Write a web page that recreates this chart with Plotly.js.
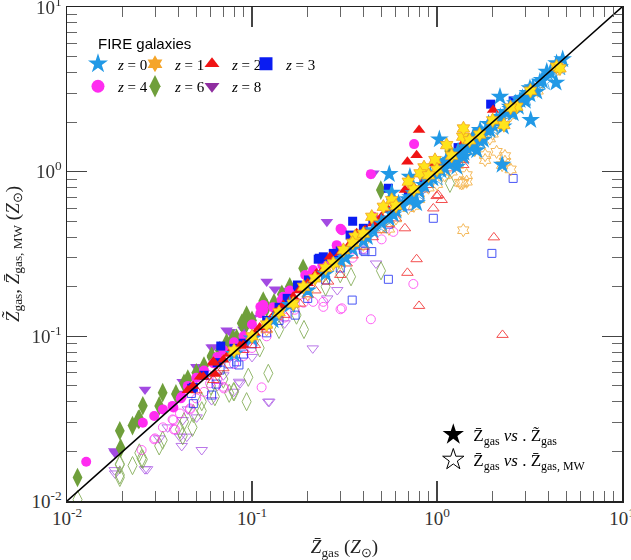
<!DOCTYPE html>
<html><head><meta charset="utf-8">
<script src="https://cdn.plot.ly/plotly-3.0.1.min.js"></script>
<style>html,body{margin:0;padding:0;background:#fff}#chart{width:631px;height:560px}</style>
</head><body><div id="chart"></div>
<script>
// ---- data: [Zbar_gas, Z_other] pairs (units of Z_sun) ----
const z0Filled = [[4.78,4.81],[4.40,3.47],[3.92,4.04],[3.60,3.52],[3.18,3.21],[3.46,3.06],[3.18,2.95],[3.21,2.06],[2.19,2.85],[2.81,2.72],[3.00,2.69],[2.48,2.48],[2.25,1.10],[1.03,1.57],[2.28,1.88],[1.71,1.79],[1.57,1.63],[1.51,1.42],[1.39,1.23],[1.28,1.07],[1.18,1.18],[1.64,1.35],[1.78,1.56],[1.93,1.79],[2.10,2.06],[2.58,2.26],[2.75,2.48],[4.43,4.55],[0.552,0.966],[0.569,0.745],[0.714,0.931],[0.776,0.642],
 [0.08,0.078],[0.10,0.097],[0.13,0.125],[0.16,0.155],[0.20,0.19],[0.25,0.24],[0.30,0.29],[0.35,0.34],[0.40,0.38],[0.45,0.44],[0.50,0.49],[0.55,0.52],[0.60,0.58],[0.65,0.62],[0.70,0.68],[0.75,0.74],[0.80,0.76],[0.85,0.83],[0.90,0.88],[0.95,0.91],[1.00,0.97],[1.05,1.02],[1.10,1.05],[1.15,1.12],[1.20,1.16],[1.25,1.22],[1.35,1.30],[1.45,1.40],[1.55,1.50],[1.65,1.58],[1.75,1.70],[1.85,1.80],[2.00,1.93],[2.10,2.00],[2.20,2.15],[2.35,2.30],[2.50,2.40],[2.65,2.60],[2.90,2.80],[3.10,3.00],[3.30,3.25],[3.70,3.60],[4.10,4.00],[0.62,0.64],[0.72,0.70],[0.88,0.90],[1.30,1.33],[1.60,1.62],[1.90,1.95],[0.92,0.95],[1.12,1.16],[0.58,0.55],[1.40,1.30],[1.70,1.55],[0.42,0.40],[0.32,0.30]];
const z0Open = [[0.50,0.47],[0.80,0.74],[1.00,0.92],[1.30,1.20],[1.60,1.45],[2.00,1.85],[2.50,2.30],[3.00,2.80],[3.80,3.50],[4.60,4.30]];

const z1Filled = [[0.851,1.062],[0.975,1.176],[1.128,1.45],[1.377,1.63],[1.39,1.83],[0.81,0.977],[0.70,0.869],[0.569,0.672],[0.513,0.612],[0.444,0.532],[0.361,0.403],[0.312,0.334],[2.30,1.92],[4.43,4.34],[2.70,2.48],[4.62,4.24],[0.219,0.225],[0.167,0.158],[0.275,0.277],[0.08,0.082],[0.10,0.10],[0.12,0.118],
 [0.60,0.62],[0.75,0.78],[1.00,1.03],[1.20,1.25],[1.50,1.55],[1.70,1.68],[2.00,2.05],[2.50,2.45],[3.20,3.10],[0.40,0.42],[0.25,0.26],[0.14,0.14],[0.19,0.20],[0.35,0.37],[0.90,0.95]];
const z1Open = [[2.10,1.32],[2.33,1.244],[2.25,1.097],[2.50,1.032],[1.387,0.857],[1.446,0.953],[1.82,1.26],[1.93,1.59],[2.33,1.148],[1.387,0.441],[1.36,0.849],[1.446,0.869],[1.33,0.857],[1.82,1.176],
 [0.30,0.28],[0.50,0.46],[0.70,0.60],[0.90,0.80],[1.10,0.95],[1.30,1.10],[1.60,1.35],[2.00,1.70],[2.50,2.20],[3.50,3.10],[4.50,4.20],[0.20,0.18],[0.12,0.11],[0.40,0.36],[0.60,0.52],[0.80,0.68],[1.00,0.84],[1.20,1.00],[1.70,1.45],[0.55,0.45],[0.75,0.62]];

const z2Filled = [[0.0524,0.0569],[0.0618,0.070],[0.0897,0.0885],[0.0622,0.0692],[0.0861,0.0873],[0.1037,0.104],[0.125,0.1256],[0.1476,0.155],[0.167,0.174],[0.223,0.241],[0.264,0.304],[0.368,0.422],[0.80,1.79],[0.776,1.26],[0.692,1.148],[0.546,0.585],[0.453,0.485],[0.408,0.441],[0.671,0.773],[0.879,0.91],[0.975,1.122],[2.01,2.37],[1.36,1.45],[0.063,0.059],[0.0546,0.0569],
 [0.07,0.072],[0.075,0.078],[0.11,0.113],[0.135,0.14],[0.18,0.19],[0.20,0.21],[0.24,0.25],[0.30,0.32],[0.33,0.35],[0.50,0.53],[0.60,0.64],[0.75,0.80],[1.10,1.15],[1.20,1.28],[1.60,1.70],[0.045,0.047],[0.048,0.05]];
const z2Open = [[2.03,0.399],[0.776,0.294],[0.692,0.243],[0.80,0.153],[2.26,0.102],[0.996,0.711],[1.06,0.673],[0.955,0.598],[0.671,0.453],[0.502,0.441],[1.175,1.047],[1.387,1.176],[1.016,0.721],[1.387,1.097],[0.064,0.061],[0.0618,0.0543],[0.0897,0.0826],[0.136,0.1315],[0.1815,0.158],[0.258,0.215],[0.30,0.236],[0.325,0.277],[0.1037,0.0885],
 [0.05,0.047],[0.07,0.064],[0.12,0.11],[0.15,0.135],[0.20,0.18],[0.22,0.19],[0.35,0.31],[0.40,0.35],[0.45,0.40],[0.55,0.48],[0.60,0.52],[0.85,0.78],[0.90,0.83],[1.20,1.10]];

const z3Filled = [[0.0678,0.0873],[0.080,0.0845],[0.0482,0.049],[0.0648,0.0692],[0.0897,0.0908],[0.231,0.298],[0.176,0.205],[0.202,0.22],[0.275,0.319],[0.339,0.412],[0.35,0.50],[0.40,0.453],[0.0995,0.097],[0.546,0.793],[0.243,0.304],[0.228,0.294],[0.178,0.20],[0.28,0.31],[0.60,0.656],[1.95,2.57],[2.58,2.69],[0.0472,0.0483],
 [0.12,0.125],[0.14,0.15],[0.155,0.17],[0.055,0.058],[0.30,0.33],[0.45,0.50],[0.70,0.75],[0.85,0.90],[1.30,1.40]];
const z3Open = [[2.58,0.91],[0.955,0.521],[1.98,0.319],[0.546,0.222],[0.348,0.166],[0.444,0.327],[0.0482,0.039],[0.0826,0.070],[0.0605,0.044],[0.0672,0.0624],[0.40,0.334],[0.171,0.1345],[0.047,0.045],[0.064,0.0513],[0.408,0.327],[0.085,0.067],
 [0.10,0.09],[0.12,0.105],[0.14,0.125],[0.20,0.17],[0.25,0.22],[0.30,0.26],[0.55,0.48],[0.70,0.62],[0.80,0.70],[0.09,0.078],[0.075,0.068]];

const z4Filled = [[0.0127,0.0173],[0.0257,0.0299],[0.0296,0.0328],[0.0376,0.037],[0.0417,0.043],[0.0372,0.0378],[0.0412,0.042],[0.070,0.0826],[0.0618,0.0686],[0.115,0.1445],[0.1476,0.174],[0.214,0.253],[0.111,0.151],[0.115,0.155],[0.111,0.138],[0.1445,0.166],[0.214,0.247],[0.194,0.236],[0.306,0.441],[0.287,0.358],[0.752,1.47],[0.439,0.966],[0.301,0.45],[0.289,0.349],[0.453,0.532],[0.292,0.319],
 [0.045,0.05],[0.05,0.056],[0.055,0.062],[0.065,0.075],[0.08,0.092],[0.09,0.10],[0.10,0.118],[0.13,0.15],[0.16,0.19],[0.18,0.20],[0.24,0.27],[0.26,0.29],[0.033,0.036]];
const z4Open = [[0.0253,0.0204],[0.0296,0.0237],[0.0372,0.0313],[0.0378,0.0272],[0.0408,0.034],[0.0462,0.036],[0.0594,0.0519],[0.1127,0.049],[0.0705,0.0483],[0.0299,0.024],[0.0376,0.031],[0.0384,0.0272],[0.0462,0.0365],[0.070,0.0494],[0.058,0.0582],[0.306,0.148],[0.439,0.127],[0.243,0.151],[0.745,0.208],[0.301,0.146],[0.581,0.431],[0.502,0.388],[0.214,0.162],[0.243,0.162],
 [0.05,0.042],[0.055,0.046],[0.065,0.055],[0.08,0.068],[0.09,0.076],[0.10,0.085],[0.12,0.10],[0.15,0.13],[0.17,0.145],[0.19,0.16],[0.35,0.30],[0.40,0.34],[0.033,0.028]];

const z6Filled = [[0.0114,0.0139],[0.0193,0.0267],[0.0195,0.021],[0.0226,0.0287],[0.0257,0.0379],[0.0246,0.0315],[0.0329,0.0455],[0.0315,0.0378],[0.0388,0.0447],[0.0243,0.0313],[0.0429,0.0519],[0.0605,0.0759],[0.0729,0.0914],[0.0826,0.0972],[0.0935,0.1345],[0.189,0.259],[0.115,0.164],[0.1315,0.16],[0.0935,0.12],[0.088,0.12],[0.079,0.097],[0.0605,0.075],[0.497,0.773],[1.165,1.334],
 [0.05,0.06],[0.055,0.066],[0.067,0.082],[0.10,0.125],[0.12,0.15],[0.145,0.18],[0.16,0.20],[0.045,0.055]];
const z6Open = [[0.0114,0.0102],[0.0193,0.0139],[0.0193,0.0166],[0.0226,0.0164],[0.0257,0.0179],[0.0246,0.0196],[0.0329,0.0234],[0.0315,0.0216],[0.0422,0.0249],[0.0477,0.028],[0.0535,0.0353],[0.0753,0.0451],[0.0935,0.0401],[0.1225,0.0596],[0.191,0.110],[0.0955,0.0564],[0.080,0.0461],[0.174,0.1345],[1.175,0.849],[0.498,0.25],[0.343,0.230],[0.0482,0.034],[0.0535,0.0401],[0.0429,0.0303],[0.0408,0.0272],[0.063,0.043],[0.0795,0.0461],[0.0253,0.0181],[0.0193,0.0168],[0.0193,0.0144],
 [0.06,0.05],[0.07,0.055],[0.11,0.085],[0.14,0.11],[0.25,0.20],[0.30,0.24]];

const z8Filled = [[0.018,0.0201],[0.0264,0.0476],[0.0422,0.053],[0.0182,0.0196],[0.0614,0.0857],[0.0502,0.0649],[0.076,0.1067],[0.12,0.215],[0.133,0.193],[0.0729,0.109],[0.0605,0.0857],[0.0502,0.0654],[0.254,0.497],[0.453,0.977],
 [0.04,0.045],[0.09,0.11],[0.10,0.13],[0.15,0.19]];
const z8Open = [[0.0181,0.0154],[0.0264,0.0156],[0.0417,0.0216],[0.0535,0.0204],[0.0315,0.024],[0.0444,0.0246],[0.124,0.0401],[0.0795,0.0461],[0.0605,0.041],[0.0861,0.0519],[0.0422,0.031],[0.0182,0.0147],[0.0271,0.0156],[0.0851,0.053],[0.0502,0.0322],[0.0408,0.0246],[0.213,0.0845],[0.1225,0.0401],[0.468,0.277],[0.289,0.191],[0.255,0.17],
 [0.035,0.028],[0.045,0.036],[0.065,0.05],[0.10,0.075],[0.15,0.12],[0.07,0.058]];

const oneToOne = [0.01, 10];
const tickVals = [0.01, 0.1, 1, 10];
const tickText = ['10<sup>-2</sup>', '10<sup>-1</sup>', '10<sup>0</sup>', '10<sup>1</sup>'];
const legendTitle = 'FIRE galaxies';
const legendLabels = ['<i>z</i> = 0', '<i>z</i> = 1', '<i>z</i> = 2', '<i>z</i> = 3', '<i>z</i> = 4', '<i>z</i> = 6', '<i>z</i> = 8'];

// ---- styles ----
const SERIF = 'Liberation Serif, Times New Roman, serif';
const SANS = 'Liberation Sans, Arial, sans-serif';
const styles = {
  z0: {sym:'star', size:14, color:'#2199e6'},
  z1: {sym:'hexagram', size:11, color:'#ffe41c', line:'#f0a020', legendColor:'#f5a52a'},
  z2: {sym:'triangle-up', size:11, color:'#f01414'},
  z3: {sym:'square', size:9, color:'#0a1cf2'},
  z4: {sym:'circle', size:10, color:'#ff2cf0'},
  z6: {sym:'diamond-tall', size:14, color:'#6f9f3b'},
  z8: {sym:'triangle-down', size:11, color:'#a34ae2', legendColor:'#8f2ea0'}
};
const col = (a, i) => a.map(p => p[i]);

function openTrace(arr, s) {
  return {type:'scatter', mode:'markers', x:col(arr,0), y:col(arr,1), showlegend:false, hoverinfo:'skip',
    opacity:0.75,
    marker:{symbol:s.sym + '-open', size:s.size - 1, color:(s.line||s.color), line:{width:1, color:(s.line||s.color)}}};
}
function filledTrace(arr, s) {
  return {type:'scatter', mode:'markers', x:col(arr,0), y:col(arr,1), showlegend:false, hoverinfo:'skip',
    marker:{symbol:s.sym, size:s.size, color:s.color, line:{width:s.line?0.8:0, color:s.line||s.color}}};
}

const traces = [
  openTrace(z8Open, styles.z8), openTrace(z6Open, styles.z6), openTrace(z4Open, styles.z4),
  openTrace(z3Open, styles.z3), openTrace(z2Open, styles.z2), openTrace(z1Open, styles.z1), openTrace(z0Open, styles.z0),
  filledTrace(z8Filled, styles.z8), filledTrace(z6Filled, styles.z6), filledTrace(z4Filled, styles.z4),
  filledTrace(z3Filled, styles.z3), filledTrace(z2Filled, styles.z2), filledTrace(z0Filled, styles.z0), filledTrace(z1Filled, styles.z1),
  {type:'scatter', mode:'lines', x:oneToOne, y:oneToOne, showlegend:false, hoverinfo:'skip', line:{color:'#000', width:1.6}}
];

// legend 1: four columns, each its own small vertical legend
const legendOrder = [['z0',0,'legend'],['z4',4,'legend'],['z1',1,'legend3'],['z6',5,'legend3'],['z2',2,'legend4'],['z8',6,'legend4'],['z3',3,'legend5']];
legendOrder.forEach(([k, li, lg]) => {
  const s = styles[k];
  traces.push({type:'scatter', mode:'markers', x:[null], y:[null], name:legendLabels[li], legend:lg,
    marker:{symbol:s.sym, size:(k==='z0'?15:(k==='z6'?16:13)), color:(s.legendColor||s.color), line:{width:0}}});
});
// legend 2
traces.push({type:'scatter', mode:'markers', x:[null], y:[null], legend:'legend2',
  name:'Z\u0304<sub>gas</sub> <i>vs</i> . Z\u0303<sub>gas</sub>', marker:{symbol:'star', size:16, color:'#000'}});
traces.push({type:'scatter', mode:'markers', x:[null], y:[null], legend:'legend2',
  name:'Z\u0304<sub>gas</sub> <i>vs</i> . Z\u0304<sub>gas, MW</sub>', marker:{symbol:'star-open', size:16, color:'#000', line:{width:1, color:'#000'}}});

const minorVals = [];
[0.01, 0.1, 1].forEach(d => { for (let k = 2; k <= 9; k++) minorVals.push(k * d); });

function axis(titleText) {
  return {
    type:'log', range:[-2, 1], tickmode:'array', tickvals:tickVals, ticktext:tickText,
    ticks:'inside', ticklen:20, tickwidth:1.2, tickcolor:'#444', ticklabeloverflow:'allow',
    showline:true, linecolor:'#222', linewidth:1.5, mirror:'allticks',
    showgrid:false, zeroline:false,
    tickfont:{family:SERIF, size:19, color:'#333'},
    minor:{tickmode:'array', tickvals:minorVals, ticks:'inside', ticklen:10, tickwidth:1, tickcolor:'#666', showgrid:false},
    title:{text:titleText, font:{family:SERIF, size:19, color:'#222'}}
  };
}

function colLegend(x) {
  return {orientation:'v', x:x, y:0.918, xanchor:'left', yanchor:'top', bgcolor:'rgba(0,0,0,0)', borderwidth:0,
    itemwidth:30, tracegroupgap:0, font:{family:SERIF, size:15, color:'#000'}};
}

const layout = {
  width:631, height:560,
  margin:{l:67, r:9, t:7, b:59},
  paper_bgcolor:'#fff', plot_bgcolor:'#fff',
  font:{family:SERIF, size:16, color:'#000'},
  showlegend:true,
  xaxis: axis('<i>Z\u0304</i><sub>gas</sub> (<i>Z</i><sub>\u2299</sub>)'),
  yaxis: axis('<i>Z\u0303</i><sub>gas</sub>, <i>Z\u0304</i><sub>gas, MW</sub> (<i>Z</i><sub>\u2299</sub>)'),
  legend: colLegend(0.0198),
  legend3: colLegend(0.1225),
  legend4: colLegend(0.2252),
  legend5: colLegend(0.3225),
  legend2:{
    orientation:'v', x:0.66, y:0.17, xanchor:'left', yanchor:'top',
    bgcolor:'rgba(0,0,0,0)', borderwidth:0, itemwidth:30,
    font:{family:SERIF, size:17, color:'#000'}
  },
  annotations:[{xref:'paper', yref:'paper', x:0.052, y:0.927, xanchor:'left', yanchor:'middle', showarrow:false,
    text:legendTitle, font:{family:SANS, size:15, color:'#000'}}]
};

Plotly.newPlot('chart', traces, layout, {displayModeBar:false, staticPlot:true});
</script>
</body></html>
